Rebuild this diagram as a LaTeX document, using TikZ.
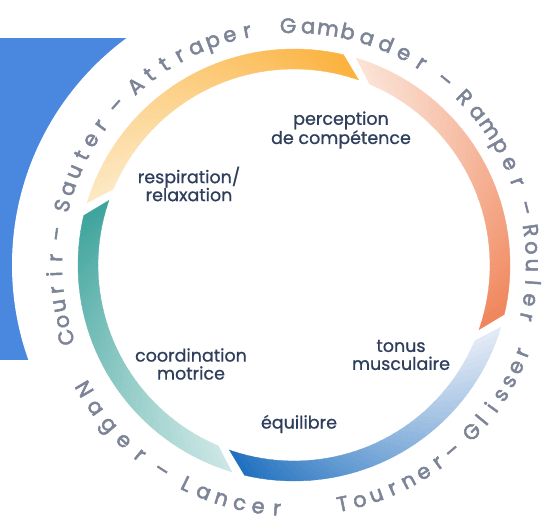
\documentclass[tikz,border=0pt]{standalone}
\usepackage{fontspec}
\setmainfont{Poppins}[FakeBold=0.8]
\newfontfamily\verbe{Poppins}[FakeBold=2.4]
\definecolor{bleufond}{HTML}{4A87DF}
\definecolor{texte}{HTML}{2E3E5C}
\definecolor{gris}{HTML}{7E8497}
\definecolor{jauneA}{HTML}{FDE9C4}
\definecolor{jauneB}{HTML}{FBB13C}
\definecolor{orangeA}{HTML}{FBE3D6}
\definecolor{orangeB}{HTML}{F0855A}
\definecolor{bleuA}{HTML}{E4EBF6}
\definecolor{bleuB}{HTML}{2070BF}
\definecolor{vertA}{HTML}{CDE7E5}
\definecolor{vertB}{HTML}{3DA39C}
\tikzset{
  lbl/.style={text=texte,font=\fontsize{17.5}{18}\selectfont,align=center},
  lettre/.style={text=gris,font=\verbe\fontsize{21}{21}\selectfont,anchor=base,inner sep=0pt},
}
\begin{document}
\begin{tikzpicture}[x=1pt,y=1pt]
  \def\R{216} % rayon exterieur
  \def\r{196}
  \def\pente{6}
  \def\motHaut#1#2#3#4{%
    \foreach \ch [count=\i from 0] in {#4}{
      \pgfmathsetmacro\ang{#2+#3*\i}
      \node[lettre,rotate=\ang-90] (#1-\i) at (\ang:232) {\ch};
    }}
  \def\motBas#1#2#3#4{%
    \foreach \ch [count=\i from 0] in {#4}{
      \pgfmathsetmacro\ang{#2+#3*\i}
      \node[lettre,rotate=\ang+90] (#1-\i) at (\ang:251) {\ch};
    }}
  \useasboundingbox (0,0) rectangle (544,521);
  \fill[bleufond] (-5,161) rectangle (200,483);
  \fill[white] (294,256) circle (282);
  \begin{scope}[shift={(294,256)}]
    \foreach \a/\b/\ca/\cb in {163.25/76.75/jauneA/jauneB,73.25/-13.25/orangeA/orangeB,
                               -16.75/-103.25/bleuA/bleuB,-106.75/-193.25/vertA/vertB}{
      \foreach \k in {0,...,39}{
        \pgfmathsetmacro\ta{\a+(\b-\a)*\k/40}
        \pgfmathsetmacro\tb{\a+(\b-\a)*(\k+1)/40}
        \pgfmathsetmacro\p{100*(\k+.5)/40}
        \colorlet{segc}{\cb!\p!\ca}
        \fill[segc,draw=segc,line width=.3pt] (\ta:\R) arc[start angle=\ta,end angle=\tb,radius=\R]
          -- (\tb-\pente:\r) arc[start angle=\tb-\pente,end angle=\ta-\pente,radius=\r] -- cycle;
      }
    }
    % verbes du haut
    \motHaut{courir}{197.6}{-3.86}{C,o,u,r,i,r}
    \node[lettre,rotate=82.5] (tiret1) at (172.5:232) {–};
    \motHaut{sauter}{165.6}{-4.3}{S,a,u,t,e,r}
    \node[lettre,rotate=48] (tiret2) at (138:232) {–};
    \motHaut{attraper}{131.5}{-4.31}{A,t,t,r,a,p,e,r}
    \motHaut{gambader}{91.4}{-4.81}{G,a,m,b,a,d,e,r}
    \node[lettre,rotate=-39.2] (tiret3) at (50.8:232) {–};
    \motHaut{ramper}{44.5}{-4.82}{R,a,m,p,e,r}
    \node[lettre,rotate=-76.1] (tiret4) at (13.9:232) {–};
    \motHaut{rouler}{8.3}{-4.18}{R,o,u,l,e,r}
    % verbes du bas
    \motBas{nager}{210.6}{5.1}{N,a,g,e,r}
    \node[lettre,rotate=327.2] (tiret5) at (237.2:251) {–};
    \motBas{lancer}{243.9}{4.42}{L,a,n,c,e,r}
    \motBas{tourner}{281.5}{4.1}{T,o,u,r,n,e,r}
    \node[lettre,rotate=400.4] (tiret6) at (310.4:251) {–};
    \motBas{glisser}{316.8}{3.7}{G,l,i,s,s,e,r}
  \end{scope}
  \node[lbl] (perception) at (341,391) {perception\\de compétence};
  \node[lbl] (respiration) at (189,337) {respiration/\\relaxation};
  \node[lbl] (coordination) at (191,157) {coordination\\motrice};
  \node[lbl] (tonus) at (401,166) {tonus\\musculaire};
  \node[lbl] (equilibre) at (299,97) {équilibre};
\end{tikzpicture}
\end{document}
